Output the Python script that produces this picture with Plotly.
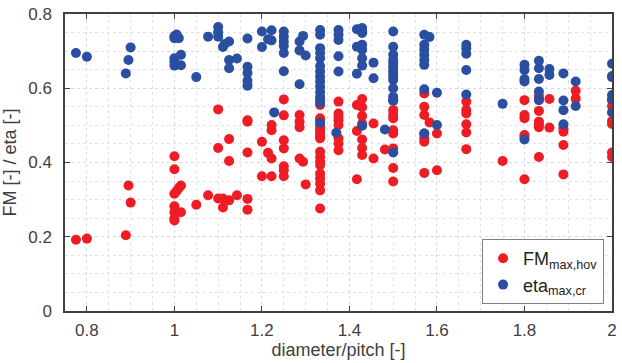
import plotly.graph_objects as go

# Figure of merit in hover (FM) per diameter/pitch ratio
fm_columns = [
    (0.775, [0.192]),
    (0.80, [0.195]),
    (0.889, [0.204]),
    (0.895, [0.338]),
    (0.90, [0.292]),
    (1.00, [0.417, 0.382, 0.316, 0.282, 0.266, 0.249, 0.244]),
    (1.005, [0.323]),
    (1.01, [0.331]),
    (1.015, [0.338, 0.266]),
    (1.05, [0.286]),
    (1.077, [0.312]),
    (1.10, [0.543, 0.439, 0.303]),
    (1.111, [0.303, 0.279]),
    (1.125, [0.463, 0.404, 0.298]),
    (1.143, [0.312]),
    (1.167, [0.514, 0.510, 0.427, 0.302, 0.273]),
    (1.20, [0.456, 0.363]),
    (1.214, [0.426]),
    (1.222, [0.501, 0.487, 0.411, 0.363]),
    (1.25, [0.570, 0.527, 0.460, 0.438, 0.390, 0.379, 0.363]),
    (1.286, [0.528, 0.510, 0.495, 0.411]),
    (1.294, [0.402]),
    (1.30, [0.341]),
    (1.333, [0.555, 0.519, 0.514, 0.500, 0.492, 0.485, 0.478, 0.470, 0.465, 0.429,
             0.415, 0.402, 0.393, 0.370, 0.357, 0.343, 0.325, 0.276]),
    (1.375, [0.564, 0.532, 0.523, 0.514, 0.501, 0.465, 0.451, 0.433]),
    (1.417, [0.555, 0.485, 0.355]),
    (1.429, [0.571, 0.549, 0.525, 0.504, 0.462, 0.439, 0.420]),
    (1.455, [0.505, 0.411]),
    (1.481, [0.435]),
    (1.50, [0.541, 0.528, 0.519, 0.487, 0.478, 0.438, 0.385, 0.349]),
    (1.571, [0.586, 0.550, 0.528, 0.478, 0.465, 0.456, 0.372]),
    (1.583, [0.508]),
    (1.60, [0.478, 0.379]),
    (1.667, [0.564, 0.541, 0.532, 0.503, 0.481, 0.436]),
    (1.75, [0.404]),
    (1.80, [0.568, 0.528, 0.519, 0.474, 0.469, 0.355]),
    (1.833, [0.579, 0.570, 0.539, 0.510, 0.503, 0.495, 0.415]),
    (1.857, [0.571, 0.494]),
    (1.889, [0.492, 0.483, 0.447, 0.368]),
    (1.917, [0.593, 0.572]),
    (2.00, [0.568, 0.552, 0.512, 0.504, 0.427, 0.415]),
]

# Cruise efficiency (eta) per diameter/pitch ratio
eta_columns = [
    (0.775, [0.695]),
    (0.80, [0.685]),
    (0.889, [0.640]),
    (0.895, [0.676]),
    (0.90, [0.710]),
    (1.00, [0.740, 0.735, 0.681, 0.672, 0.661]),
    (1.005, [0.745, 0.738]),
    (1.01, [0.735]),
    (1.015, [0.690, 0.662]),
    (1.05, [0.630]),
    (1.077, [0.739]),
    (1.10, [0.765, 0.751, 0.739]),
    (1.111, [0.711]),
    (1.115, [0.719]),
    (1.125, [0.726, 0.676, 0.654]),
    (1.143, [0.680]),
    (1.167, [0.734, 0.658, 0.641, 0.620, 0.607]),
    (1.20, [0.753, 0.711]),
    (1.214, [0.732]),
    (1.222, [0.756, 0.729]),
    (1.228, [0.535]),
    (1.25, [0.753, 0.739, 0.726, 0.714, 0.695, 0.646]),
    (1.286, [0.726, 0.702, 0.611]),
    (1.294, [0.741]),
    (1.30, [0.688]),
    (1.333, [0.757, 0.744, 0.708, 0.695, 0.681, 0.660, 0.645, 0.631, 0.618, 0.604,
             0.590, 0.577, 0.568, 0.561, 0.507]),
    (1.37, [0.480]),
    (1.375, [0.757, 0.744, 0.730, 0.686, 0.645]),
    (1.417, [0.759, 0.712, 0.639]),
    (1.429, [0.762, 0.753, 0.749, 0.717, 0.704, 0.681, 0.661, 0.499]),
    (1.455, [0.669, 0.627]),
    (1.481, [0.489]),
    (1.50, [0.753, 0.712, 0.690, 0.676, 0.668, 0.658, 0.649, 0.641, 0.631, 0.622,
            0.600, 0.577, 0.568, 0.566, 0.427]),
    (1.571, [0.744, 0.717, 0.704, 0.690, 0.676, 0.663, 0.597, 0.478]),
    (1.583, [0.738]),
    (1.60, [0.588, 0.501]),
    (1.667, [0.717, 0.708, 0.693, 0.649, 0.583]),
    (1.75, [0.558]),
    (1.80, [0.663, 0.649, 0.625, 0.618, 0.462]),
    (1.833, [0.674, 0.654, 0.625, 0.591, 0.568]),
    (1.857, [0.652, 0.636]),
    (1.889, [0.640, 0.567, 0.541, 0.503]),
    (1.917, [0.618, 0.552]),
    (2.00, [0.666, 0.633, 0.630, 0.582, 0.570, 0.535]),
]

x_ticks = [0.8, 1.0, 1.2, 1.4, 1.6, 1.8, 2.0]
x_tick_labels = ["0.8", "1", "1.2", "1.4", "1.6", "1.8", "2"]
y_ticks = [0, 0.2, 0.4, 0.6, 0.8]
y_tick_labels = ["0", "0.2", "0.4", "0.6", "0.8"]


def flatten(columns):
    xs, ys = [], []
    for ratio, values in columns:
        for v in values:
            xs.append(ratio)
            ys.append(v)
    return xs, ys


fm_x, fm_y = flatten(fm_columns)
eta_x, eta_y = flatten(eta_columns)

RED = "#EE1C25"
BLUE = "#2B4FA0"
AXIS = "#404040"
FONT = "Liberation Sans, Arial, sans-serif"

fig = go.Figure()
fig.add_trace(go.Scatter(
    x=fm_x, y=fm_y, mode="markers", name="FM<sub>max,hov</sub>",
    marker=dict(color=RED, size=10, line=dict(width=0)),
))
fig.add_trace(go.Scatter(
    x=eta_x, y=eta_y, mode="markers", name="eta<sub>max,cr</sub>",
    marker=dict(color=BLUE, size=10, line=dict(width=0)),
))

axis_common = dict(
    showline=True, linecolor=AXIS, linewidth=1.5, mirror="allticks",
    ticks="inside", ticklen=5, tickcolor=AXIS, tickwidth=1,
    showgrid=True, gridcolor="#d9d9d9", griddash="dot", gridwidth=1,
    zeroline=False,
    tickfont=dict(family=FONT, size=17, color=AXIS),
    minor=dict(dtick=0.05, showgrid=True, gridcolor="#e3e3e3",
               griddash="dot", gridwidth=1, ticks=""),
)

fig.update_xaxes(
    range=[0.75, 2.0], tickvals=x_ticks, ticktext=x_tick_labels,
    title=dict(text="diameter/pitch [-]", font=dict(family=FONT, size=18, color=AXIS),
               standoff=3),
    ticklabelstandoff=3,
    **axis_common,
)
fig.update_yaxes(
    range=[0, 0.8], tickvals=y_ticks, ticktext=y_tick_labels,
    title=dict(text="FM [-] / eta [-]", font=dict(family=FONT, size=18, color=AXIS),
               standoff=8),
    ticklabelstandoff=8,
    **axis_common,
)

fig.update_layout(
    width=622, height=363,
    margin=dict(l=65, r=5, t=13, b=52),
    paper_bgcolor="white", plot_bgcolor="white",
    font=dict(family=FONT, color="#222222"),
    showlegend=True,
    legend=dict(
        x=0.9855, y=0.0235, xanchor="right", yanchor="bottom",
        bgcolor="white", bordercolor="#808080", borderwidth=1,
        font=dict(family=FONT, size=18, color="#222222"),
        itemwidth=30, tracegroupgap=0,
    ),
)

fig.write_html("out.html")
